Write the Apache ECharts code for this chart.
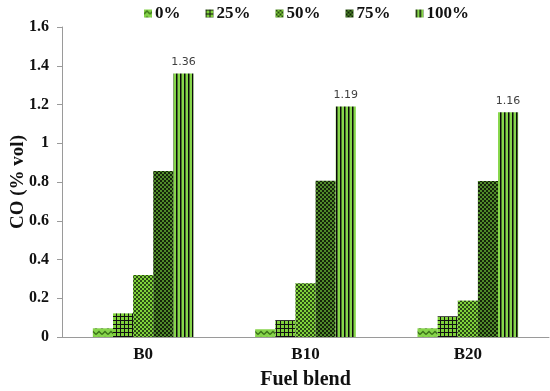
<!DOCTYPE html>
<html><head><meta charset="utf-8">
<script src="https://cdn.jsdelivr.net/npm/echarts@6/dist/echarts.min.js"></script>
<style>html,body{margin:0;padding:0;background:#fff}#c{width:550px;height:391px}</style>
</head><body><div id="c"></div>
<script>
var categories = ['B0', 'B10', 'B20'];
var seriesNames = ['0%', '25%', '50%', '75%', '100%'];
var s0 = [0.045, 0.04, 0.045];
var s25 = [0.122, 0.087, 0.107];
var s50 = [0.32, 0.278, 0.188];
var s75 = [0.857, 0.806, 0.805];
var s100 = [1.36, 1.19, 1.16];
var yTicks = [0, 0.2, 0.4, 0.6, 0.8, 1, 1.2, 1.4, 1.6];

var LG = '#7fd13b';
function mk(w, h, draw) {
  var c = document.createElement('canvas'); c.width = w; c.height = h;
  var g = c.getContext('2d'); draw(g); return {image: c, repeat: 'repeat'};
}
var pat0 = mk(6, 6, function (g) {
  g.fillStyle = '#86d44a'; g.fillRect(0, 0, 6, 6);
  g.strokeStyle = '#3a7019'; g.lineWidth = 1.4;
  g.beginPath(); g.moveTo(0, 4.5); g.lineTo(3, 1.5); g.lineTo(6, 4.5); g.stroke();
});
var pat25 = mk(4, 4, function (g) {
  g.fillStyle = LG; g.fillRect(0, 0, 4, 4);
  g.fillStyle = '#111'; g.fillRect(0, 0, 4, 1); g.fillRect(0, 0, 1, 4);
});
var pat50 = mk(4, 4, function (g) {
  g.fillStyle = LG; g.fillRect(0, 0, 4, 4);
  g.fillStyle = '#2a4a14'; g.fillRect(0, 0, 2, 2); g.fillRect(2, 2, 2, 2);
});
var pat75 = mk(4, 4, function (g) {
  g.fillStyle = '#4f8a2a'; g.fillRect(0, 0, 4, 4);
  g.fillStyle = '#14240a'; g.fillRect(0, 0, 2, 2); g.fillRect(2, 2, 2, 2);
});
var pat100 = mk(4, 4, function (g) {
  g.fillStyle = '#86d64a'; g.fillRect(0, 0, 4, 4);
  g.fillStyle = '#0a0a0a'; g.fillRect(0, 0, 1.5, 4);
});
var pats = [pat0, pat25, pat50, pat75, pat100];
var vals = [s0, s25, s50, s75, s100];

var serif = '"Liberation Serif", "Times New Roman", serif';
var series = seriesNames.map(function (n, i) {
  var s = {
    name: n, type: 'bar', data: vals[i], barGap: '0%', barCategoryGap: '38%',
    itemStyle: {color: pats[i]}
  };
  if (i === 4) {
    s.label = {show: true, position: 'top', distance: 6, fontFamily: '"DejaVu Sans", Verdana, sans-serif',
      fontSize: 11, color: '#404040', formatter: function (p) { return p.value.toFixed(2); }};
  }
  return s;
});

var chart = echarts.init(document.getElementById('c'), null, {renderer: 'canvas'});
chart.setOption({
  animation: false,
  backgroundColor: '#fff',
  legend: {
    data: seriesNames, left: 144, top: 5, itemWidth: 8, itemHeight: 8, itemGap: 25,
    icon: 'rect', padding: [0, 0, 0, 0],
    textStyle: {fontFamily: serif, fontWeight: 'bold', fontSize: 17, color: '#111', padding: [0, 0, 0, -2]}
  },
  grid: {left: 62, right: 1, top: 27, bottom: 54, containLabel: false, outerBoundsMode: 'none'},
  xAxis: {
    type: 'category', data: categories,
    axisLine: {lineStyle: {color: '#9a9a9a', width: 1}},
    axisTick: {show: false},
    axisLabel: {fontFamily: serif, fontWeight: 'bold', fontSize: 17, color: '#111', margin: 9},
    name: 'Fuel blend', nameLocation: 'middle', nameGap: 33,
    nameTextStyle: {fontFamily: serif, fontWeight: 'bold', fontSize: 20, color: '#111'}
  },
  yAxis: {
    type: 'value', min: yTicks[0], max: yTicks[yTicks.length - 1], interval: 0.2,
    axisLine: {show: true, lineStyle: {color: '#9a9a9a', width: 1}},
    axisTick: {show: true, length: 5, lineStyle: {color: '#9a9a9a'}},
    splitLine: {show: false},
    axisLabel: {fontFamily: serif, fontWeight: 'bold', fontSize: 16, color: '#111', margin: 13,
      formatter: function (v) { return String(Math.round(v * 10) / 10); }},
    name: 'CO (% vol)', nameLocation: 'middle', nameGap: 34, nameRotate: 90, nameMoveOverlap: false,
    nameTextStyle: {fontFamily: serif, fontWeight: 'bold', fontSize: 19, color: '#111'}
  },
  series: series
});
</script></body></html>
